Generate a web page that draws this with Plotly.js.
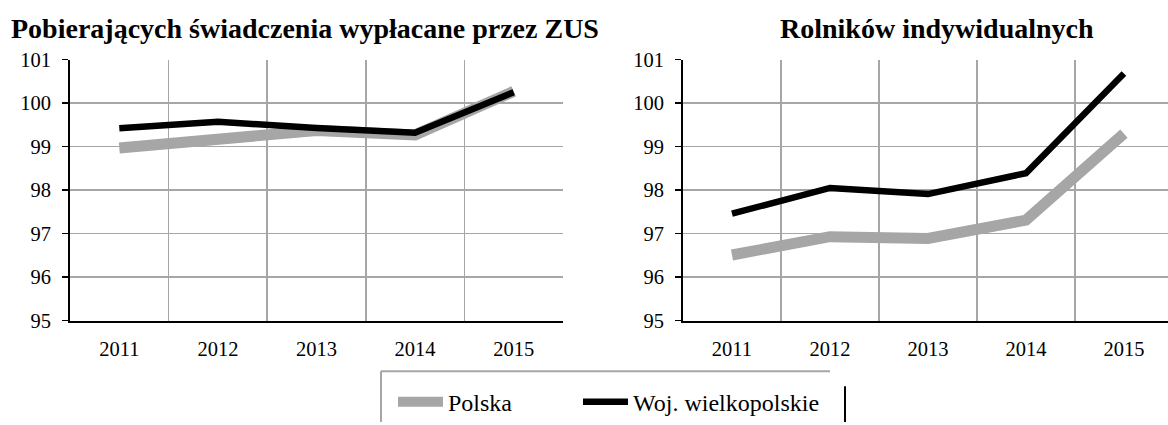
<!DOCTYPE html>
<html>
<head>
<meta charset="utf-8">
<script src="https://cdn.plot.ly/plotly-3.0.1.min.js"></script>
<style>
html,body{margin:0;padding:0;background:#fff;overflow:hidden;}
#chart{width:1168px;height:425px;}
</style>
</head>
<body>
<div id="chart"></div>
<script>
const years = ["2011", "2012", "2013", "2014", "2015"];
const seriesNames = ["Polska", "Woj. wielkopolskie"];
const titles = ["Pobierających świadczenia wypłacane przez ZUS", "Rolników indywidualnych"];
// Panel 1: Pobierających świadczenia wypłacane przez ZUS
const zusPolska = [98.97, 99.14, 99.37, 99.27, 100.27];
const zusWielkopolskie = [99.42, 99.57, 99.43, 99.32, 100.25];
// Panel 2: Rolników indywidualnych
const rolPolska = [96.51, 96.93, 96.89, 97.31, 99.30];
const rolWielkopolskie = [97.46, 98.05, 97.91, 98.39, 100.68];
const yTicks = [95, 96, 97, 98, 99, 100, 101];

const GREY = "#a6a6a6";
const GRID = "#a6a6a6";
const FONT = "'Liberation Serif', 'Times New Roman', serif";
const xIdx = years.map((_, i) => i);

const traces = [
  {x: xIdx, y: zusPolska, name: seriesNames[0], type: "scatter", mode: "lines",
   line: {color: GREY, width: 11}, xaxis: "x", yaxis: "y", legend: "legend"},
  {x: xIdx, y: zusWielkopolskie, name: seriesNames[1], type: "scatter", mode: "lines",
   line: {color: "#000000", width: 6.5}, xaxis: "x", yaxis: "y", legend: "legend2"},
  {x: xIdx, y: rolPolska, name: seriesNames[0], type: "scatter", mode: "lines",
   line: {color: GREY, width: 11}, xaxis: "x2", yaxis: "y2", showlegend: false},
  {x: xIdx, y: rolWielkopolskie, name: seriesNames[1], type: "scatter", mode: "lines",
   line: {color: "#000000", width: 6.5}, xaxis: "x2", yaxis: "y2", showlegend: false}
];

const W = 1168, H = 425;
const px = v => v / W;
const py = v => (H - v) / H;

function xAxis(domain, range) {
  return {
    domain: domain, range: range, fixedrange: true,
    tickvals: xIdx, ticktext: years, showgrid: false, zeroline: false,
    ticks: "", showline: true, linecolor: "#000", linewidth: 2,
    ticklabelstandoff: 9,
    tickfont: {family: FONT, size: 20.5, color: "#000"},
    minor: {tickvals: [0.5, 1.5, 2.5, 3.5, 4.5], showgrid: true, gridcolor: GRID, gridwidth: 1.5, ticks: ""}
  };
}
function yAxis(anchor) {
  return {
    domain: [py(323), py(60)], range: [95, 101], fixedrange: true, anchor: anchor,
    tickvals: yTicks, showgrid: true, gridcolor: GRID, gridwidth: 1.5, zeroline: false,
    ticks: "outside", ticklen: 6, tickcolor: "#000", tickwidth: 1.5,
    showline: true, linecolor: "#000", linewidth: 2,
    ticklabelstandoff: 7,
    tickfont: {family: FONT, size: 20.5, color: "#000"}
  };
}
function legendAt(x) {
  return {
    orientation: "h", x: px(x), xanchor: "left", y: py(405), yanchor: "middle",
    font: {family: FONT, size: 24, color: "#000"}, bgcolor: "rgba(0,0,0,0)",
    borderwidth: 0, itemwidth: 45, itemclick: false, itemdoubleclick: false
  };
}

const layout = {
  width: W, height: H,
  margin: {l: 0, r: 0, t: 0, b: 0},
  paper_bgcolor: "#fff", plot_bgcolor: "#fff",
  showlegend: true,
  font: {family: FONT, color: "#000"},
  xaxis: Object.assign(xAxis([px(70), px(563)], [-0.5, 4.5]), {anchor: "y"}),
  yaxis: yAxis("x"),
  xaxis2: Object.assign(xAxis([px(683), 1], [-0.5, 4.45]), {anchor: "y2"}),
  yaxis2: yAxis("x2"),
  legend: legendAt(393),
  legend2: legendAt(578),
  annotations: [
    {text: "<b>" + titles[0] + "</b>", xref: "paper", yref: "paper", x: px(305), y: py(29),
     xanchor: "center", yanchor: "middle", showarrow: false, font: {family: FONT, size: 28, color: "#000"}},
    {text: "<b>" + titles[1] + "</b>", xref: "paper", yref: "paper", x: px(937), y: py(29),
     xanchor: "center", yanchor: "middle", showarrow: false, font: {family: FONT, size: 28, color: "#000"}}
  ],
  shapes: [
    {type: "line", xref: "paper", yref: "paper", x0: px(381), x1: px(830), y0: py(374), y1: py(374), line: {color: GREY, width: 2}},
    {type: "line", xref: "paper", yref: "paper", x0: px(381), x1: px(381), y0: py(374), y1: 0, line: {color: GREY, width: 2}},
    {type: "line", xref: "paper", yref: "paper", x0: px(845), x1: px(845), y0: py(389), y1: 0, line: {color: "#000", width: 2}}
  ]
};

Plotly.newPlot("chart", traces, layout, {displayModeBar: false, staticPlot: true});
</script>
</body>
</html>
